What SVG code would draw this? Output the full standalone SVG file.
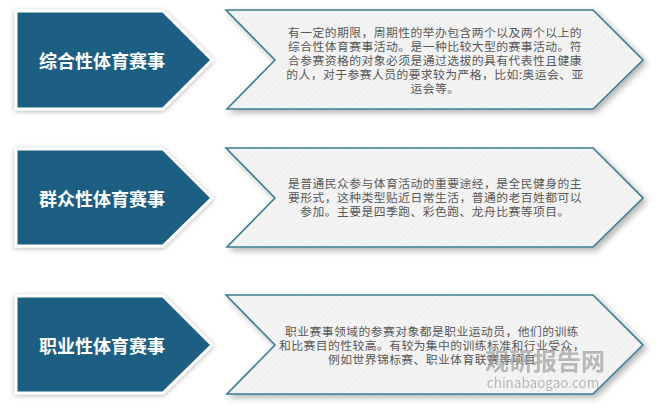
<svg xmlns="http://www.w3.org/2000/svg" width="660" height="410" viewBox="0 0 660 410">
<defs>
<pattern id="hatch" width="4" height="4" patternUnits="userSpaceOnUse" patternTransform="rotate(45)">
<rect width="4" height="4" fill="#f4f4f4"/>
<line x1="0" y1="0" x2="0" y2="4" stroke="#e6e6e6" stroke-width="1"/>
</pattern>
<filter id="shadow" x="-10%" y="-20%" width="125%" height="145%">
<feDropShadow dx="3" dy="3" stdDeviation="3" flood-color="#000" flood-opacity="0.3"/>
</filter>
<filter id="shadowL" x="-10%" y="-20%" width="125%" height="145%">
<feDropShadow dx="0" dy="1" stdDeviation="2.5" flood-color="#000" flood-opacity="0.3"/>
</filter>
</defs>
<style>
.lbl{fill:#1c5f82;stroke:#ffffff;stroke-width:3;filter:url(#shadowL)}
.chev{fill:url(#hatch);stroke:#3c7d93;stroke-width:1.6;filter:url(#shadow)}
.t{font-family:"Noto Sans CJK SC",sans-serif;font-weight:bold;font-size:18px;fill:#ffffff;text-anchor:middle}
.d{font-family:"Noto Sans CJK SC",sans-serif;font-size:11.8px;letter-spacing:0.45px;fill:#585858;text-anchor:middle}
.wm{font-family:"Noto Sans CJK SC",sans-serif;fill:#999999;opacity:0.65;text-anchor:middle}
</style>
<rect width="660" height="410" fill="#ffffff"/>
<g id="connectors"></g>
<g id="node1">
<polygon class="lbl" points="16,11 163,11 212,60 163,109 16,109"/>
<text class="t" x="102" y="68">综合性体育赛事</text>
</g>
<g id="desc1">
<polygon class="chev" points="226,10 593,10 643,60 593,109 227,109 275,60"/>
<text class="d" x="435" y="37">有一定的期限，周期性的举办包含两个以及两个以上的</text>
<text class="d" x="435" y="51">综合性体育赛事活动。是一种比较大型的赛事活动。符</text>
<text class="d" x="435" y="65">合参赛资格的对象必须是通过选拔的具有代表性且健康</text>
<text class="d" x="435" y="79">的人，对于参赛人员的要求较为严格，比如:奥运会、亚</text>
<text class="d" x="435" y="93">运会等。</text>
</g>
<g id="node2">
<polygon class="lbl" points="16,149 163,149 212,198 163,246 16,246"/>
<text class="t" x="102" y="206">群众性体育赛事</text>
</g>
<g id="desc2">
<polygon class="chev" points="226,148 593,148 643,198 593,247 227,247 275,198"/>
<text class="d" x="435" y="188">是普通民众参与体育活动的重要途经，是全民健身的主</text>
<text class="d" x="435" y="202">要形式，这种类型贴近日常生活，普通的老百姓都可以</text>
<text class="d" x="435" y="216">参加。主要是四季跑、彩色跑、龙舟比赛等项目。</text>
</g>
<g id="node3">
<polygon class="lbl" points="16,296 163,296 212,345 163,393 16,393"/>
<text class="t" x="102" y="353">职业性体育赛事</text>
</g>
<g id="desc3">
<polygon class="chev" points="226,295 593,295 643,345 593,394 227,394 275,345"/>
<text class="d" x="432" y="336">职业赛事领域的参赛对象都是职业运动员，他们的训练</text>
<text class="d" x="432" y="350">和比赛目的性较高。有较为集中的训练标准和行业受众，</text>
<text class="d" x="432" y="364">例如世界锦标赛、职业体育联赛等项目</text>
</g>
<g id="watermark">
<text class="wm" x="545" y="370" font-size="24" font-weight="bold">观研报告网</text>
<text class="wm" x="543" y="388" font-size="13.5">chinabaogao.com</text>
</g>
</svg>
